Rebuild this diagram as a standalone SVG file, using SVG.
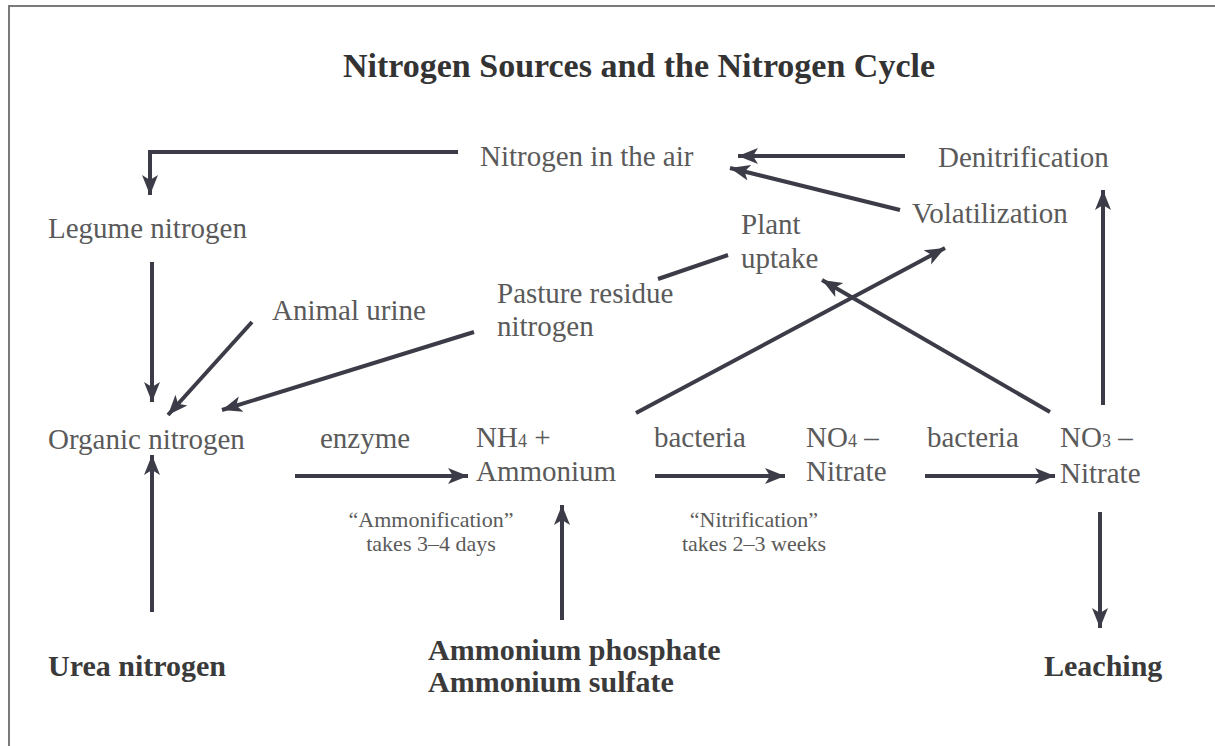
<svg xmlns="http://www.w3.org/2000/svg" width="1215" height="746" viewBox="0 0 1215 746">
<defs>
<marker id="ah" markerUnits="userSpaceOnUse" markerWidth="22" markerHeight="18" refX="20" refY="9" orient="auto"><path d="M0,1 L20,9 L0,17 L5,9 z" fill="#3c3c48"/></marker>
</defs>
<style>
text{font-family:"Liberation Serif","Times New Roman",serif;font-size:29px;fill:#5a5a5a}
.sm{font-size:22px}
.sub{font-size:18px}
.b{font-weight:bold;fill:#3a3a3a;font-size:30px}
.title{font-weight:bold;font-size:34px;fill:#333}
.c{stroke:#3c3c48;stroke-width:4;fill:none}
.a{marker-end:url(#ah)}
.frame{stroke:#7a7a7a;stroke-width:2;fill:none}
</style>
<rect width="1215" height="746" fill="#ffffff"/>
<path class="frame" d="M9,746 V6 H1215"/>
<text class="title" x="639" y="77" text-anchor="middle">Nitrogen Sources and the Nitrogen Cycle</text>
<g id="connectors">
<path class="c a" d="M458,152 H150 V195"/>
<path class="c a" d="M905,156 H738"/>
<path class="c a" d="M900,210 L730,168"/>
<path class="c" d="M658,279 L728,255"/>
<path class="c a" d="M152,262 V402"/>
<path class="c a" d="M252,322 L168,415"/>
<path class="c a" d="M474,332 L222,410"/>
<path class="c a" d="M152,612 V455"/>
<path class="c a" d="M295,476 H468"/>
<path class="c a" d="M562,620 V505"/>
<path class="c a" d="M636,413 L945,248"/>
<path class="c a" d="M655,476 H785"/>
<path class="c a" d="M925,476 H1055"/>
<path class="c a" d="M1050,412 L822,280"/>
<path class="c a" d="M1103,405 V190"/>
<path class="c a" d="M1100,512 V628"/>
</g>
<g id="air"><text x="480" y="166">Nitrogen in the air</text></g>
<g id="denitrification"><text x="938" y="167">Denitrification</text></g>
<g id="volatilization"><text x="912" y="223">Volatilization</text></g>
<g id="plant-uptake"><text x="741" y="234">Plant</text><text x="741" y="268">uptake</text></g>
<g id="legume"><text x="48" y="238">Legume nitrogen</text></g>
<g id="urine"><text x="272" y="320">Animal urine</text></g>
<g id="pasture"><text x="497" y="303">Pasture residue</text><text x="497" y="336">nitrogen</text></g>
<g id="organic"><text x="48" y="449">Organic nitrogen</text></g>
<g id="enzyme"><text x="320" y="448">enzyme</text></g>
<g id="ammonium"><text x="476" y="447">NH<tspan class="sub">4</tspan> +</text><text x="476" y="481">Ammonium</text></g>
<g id="ammonification"><text class="sm" x="431" y="527" text-anchor="middle">“Ammonification”</text><text class="sm" x="431" y="551" text-anchor="middle">takes 3–4 days</text></g>
<g id="bacteria1"><text x="654" y="447">bacteria</text></g>
<g id="no4"><text x="806" y="447">NO<tspan class="sub">4</tspan> –</text><text x="806" y="481">Nitrate</text></g>
<g id="nitrification"><text class="sm" x="754" y="527" text-anchor="middle">“Nitrification”</text><text class="sm" x="754" y="551" text-anchor="middle">takes 2–3 weeks</text></g>
<g id="bacteria2"><text x="927" y="447">bacteria</text></g>
<g id="no3"><text x="1060" y="447">NO<tspan class="sub">3</tspan> –</text><text x="1060" y="483">Nitrate</text></g>
<g id="urea"><text class="b" x="48" y="676">Urea nitrogen</text></g>
<g id="fertilizers"><text class="b" x="428" y="660">Ammonium phosphate</text><text class="b" x="428" y="692">Ammonium sulfate</text></g>
<g id="leaching"><text class="b" x="1044" y="676">Leaching</text></g>
</svg>
